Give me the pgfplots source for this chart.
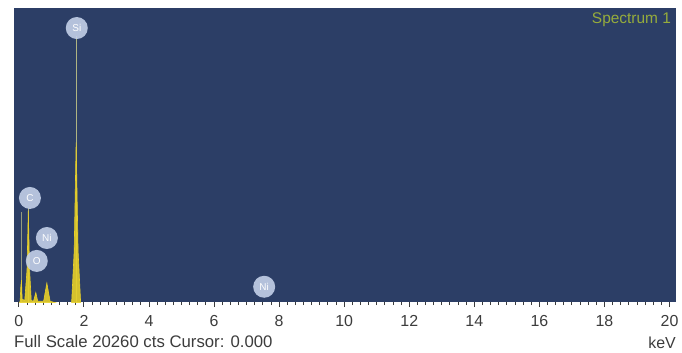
\documentclass[border=0pt]{standalone}
\usepackage{pgfplots}
\pgfplotsset{compat=1.18}
\usepackage{fontspec}
\setmainfont{Liberation Sans}
\definecolor{navy}{RGB}{44,62,102}
\definecolor{specyel}{RGB}{232,208,40}
\definecolor{pale}{RGB}{175,180,130}
\definecolor{ballc}{RGB}{195,208,232}
\definecolor{tickc}{RGB}{60,60,60}
\definecolor{spec1}{RGB}{150,172,60}
\begin{document}
\begin{tikzpicture}[x=1bp,y=1bp]
\begin{axis}[
  at={(0,0)}, anchor=south west,
  scale only axis, width=662bp, height=294bp,
  xmin=-0.15, xmax=20.2, ymin=0, ymax=20260,
  axis background/.style={fill=navy},
  axis line style={draw=none},
  ytick=\empty,
  xtick={0,2,...,20},
  minor x tick num=7,
  xtick pos=bottom, tick align=outside,
  major tick length=5bp, minor tick length=3bp,
  every tick/.style={tickc, line width=0.9pt},
  /pgf/number format/assume math mode=true,
  xticklabel style={font=\fontsize{16}{16}\selectfont, text=tickc, inner sep=1bp, yshift=-7bp},
  clip=true,
]
% pale element marker lines
\addplot[pale, line width=0.8pt] coordinates {(1.76,0) (1.76,18300)};
\addplot[pale, line width=0.6pt] coordinates {(0.30,0) (0.30,6500)};
\addplot[pale!80!navy, line width=0.5pt] coordinates {(0.07,0) (0.07,6200)};
% spectrum
\addplot[specyel, line width=0.6pt, fill=specyel, fill opacity=0.9] table {
x y
-0.15 -300
0.00 -300
0.04 100
0.06 1100
0.08 1500
0.10 200
0.18 100
0.25 2200
0.29 6300
0.33 2200
0.38 100
0.45 50
0.52 650
0.58 50
0.76 50
0.86 1300
0.96 50
1.20 -100
1.62 -100
1.70 3500
1.76 11000
1.82 3500
1.90 -100
2.30 -300
20.20 -300
};
% element labels
\begin{scope}[every node/.style={circle, fill=ballc, fill opacity=0.9, text opacity=1, text=white, minimum size=22bp, inner sep=0pt, font=\fontsize{10}{10}\selectfont}]
\node at (axis cs:1.78,18880) {Si};
\node at (axis cs:0.34,7170) {C};
\node at (axis cs:0.86,4410) {Ni};
\node at (axis cs:0.55,2830) {O};
\node at (axis cs:7.54,1050) {Ni};
\end{scope}
\node[anchor=north east, text=spec1, font=\fontsize{15.5}{15.5}\selectfont, inner sep=0pt] at (axis cs:20.05,19950) {Spectrum 1};
\end{axis}
\node[anchor=base west, inner sep=0pt, text=tickc, font=\fontsize{16.8}{16.8}\selectfont] at (0,-45) {Full Scale 20260 cts Cursor: 0.000};
\node[anchor=base east, inner sep=0pt, text=tickc, font=\fontsize{16}{16}\selectfont] at (662,-46) {keV};
\pgfresetboundingbox
\path[use as bounding box] (-14,-50) rectangle (668,302);
\end{tikzpicture}
\end{document}
